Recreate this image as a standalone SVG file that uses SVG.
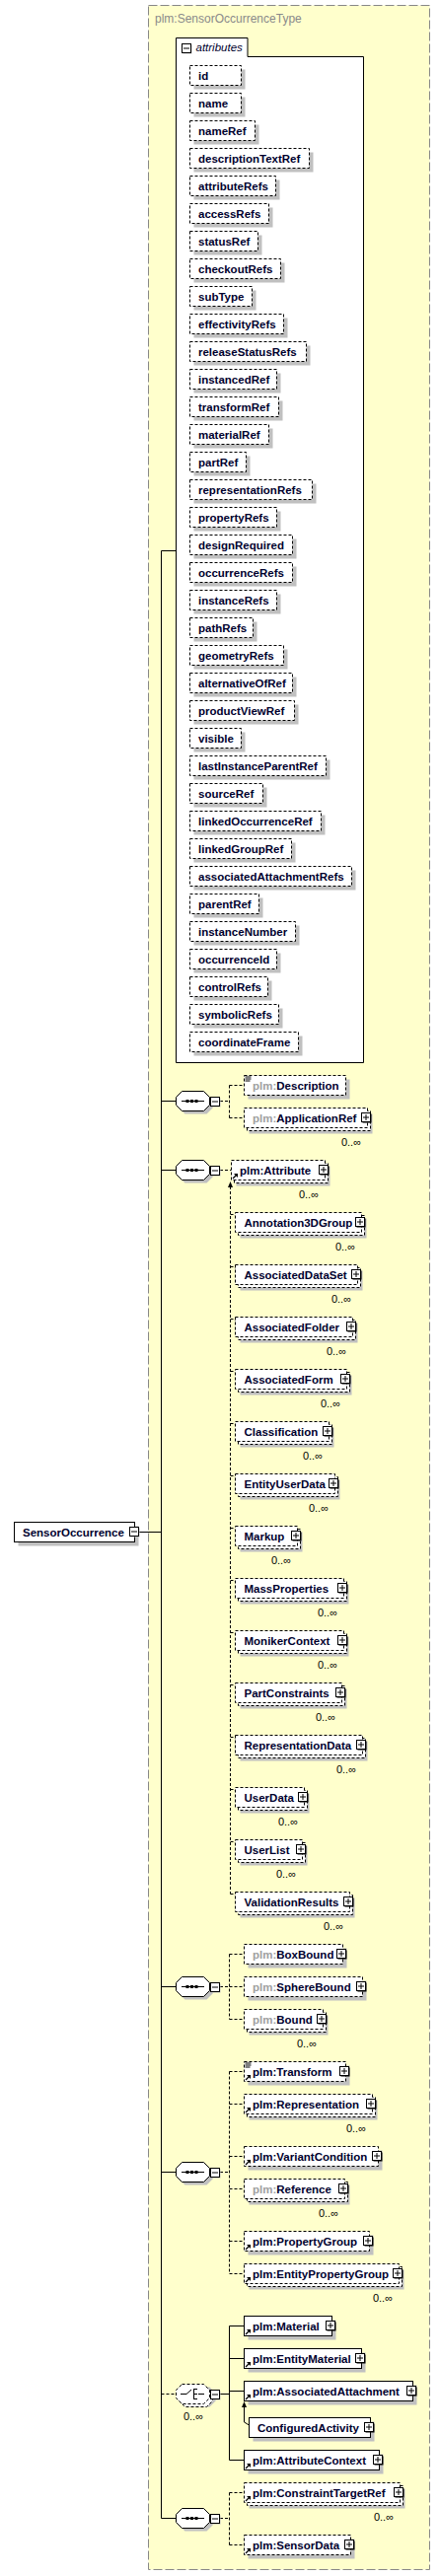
<svg xmlns="http://www.w3.org/2000/svg" xmlns:xlink="http://www.w3.org/1999/xlink" width="446" height="2612" viewBox="0 0 446 2612">
<style>
.t{font-family:"Liberation Sans",Arial,sans-serif;font-size:11.5px;font-weight:bold;fill:#00002e}
.pg{fill:#a0a0a0}
.occ{font-family:"Liberation Sans",Arial,sans-serif;font-size:11px;fill:#000;text-anchor:end}
.sh{fill:#c0c0c0}
.bd{fill:#fff;stroke:#000;stroke-dasharray:3,2}
.bs{fill:#fff;stroke:#000}
.ln{fill:none;stroke:#000}
.dl{fill:none;stroke:#000;stroke-dasharray:3,2}
</style>
<defs>
<g id="plus"><rect x="1.5" y="1.5" width="9" height="9" fill="#000"/><rect x="0.5" y="0.5" width="9" height="9" fill="#fff" stroke="#000"/><path d="M2 5H8M5 2V8" stroke="#000"/></g>
<g id="minus"><rect x="1.5" y="1.5" width="9" height="9" fill="#c0c0c0"/><rect x="0.5" y="0.5" width="9" height="9" fill="#fff" stroke="#000"/><path d="M2 5H8" stroke="#000"/></g>
<g id="ref"><path d="M1.5-1.5L5-5" stroke="#000" stroke-width="1.2"/><path d="M6.5-6.5H2.5L6.5-2.5Z" fill="#000"/></g>
<g id="eq"><path d="M1 1.5H7M1 3.5H7M1 5.5H6" stroke="#000"/></g>
<g id="oct">
<polygon class="sh" points="9,-7 31,-7 37,-1 37,7 31,13 9,13 3,7 3,-1"/>
<polygon class="bs" points="6,-10 28,-10 34,-4 34,4 28,10 6,10 0,4 0,-4"/>
<path d="M5.5 0H28.5" stroke="#000"/>
<rect x="10" y="-1.5" width="3" height="3"/><rect x="14.5" y="-1.5" width="3" height="3"/><rect x="19" y="-1.5" width="3" height="3"/>
</g>
</defs>

<rect x="150.5" y="5.5" width="285" height="2600" fill="#ffffcc" stroke="#888" stroke-dasharray="9,3"/>
<text x="157" y="23" font-family="Liberation Sans, Arial, sans-serif" font-size="12" fill="#8a8a8a">plm:SensorOccurrenceType</text>

<g id="connectors">
<path class="ln" d="M163.5 558.5V2553.5M163.5 558.5H178.5M141 1553.5H163.5M163.5 1116.5H178.5M163.5 1186.5H178.5M163.5 2014.5H178.5M163.5 2202.5H178.5M163.5 2553.5H178.5"/>
<path class="dl" d="M163.5 2427.5H178.5"/>
<path class="dl" d="M223 1116.5H232.5M232.5 1100.5V1133.5M232.5 1100.5H247.5M232.5 1133.5H247.5"/>
<path class="dl" d="M223 1186.5H234.5"/>
<path class="dl" d="M233.5 1203V1920.5"/>
<polygon points="233.5,1198 231,1204 236,1204" fill="#000"/>
<path class="dl" d="M233.5 1231.5H236.5L238.5 1233.5M233.5 1284.5H236.5L238.5 1286.5M233.5 1337.5H236.5L238.5 1339.5M233.5 1390.5H236.5L238.5 1392.5M233.5 1443.5H236.5L238.5 1445.5M233.5 1496.5H236.5L238.5 1498.5M233.5 1549.5H236.5L238.5 1551.5M233.5 1602.5H236.5L238.5 1604.5M233.5 1655.5H236.5L238.5 1657.5M233.5 1708.5H236.5L238.5 1710.5M233.5 1761.5H236.5L238.5 1763.5M233.5 1814.5H236.5L238.5 1816.5M233.5 1867.5H236.5L238.5 1869.5M233.5 1920.5H236.5L238.5 1922.5"/>
<path class="dl" d="M223 2014.5H232.5M232.5 1981.5V2047.5M232.5 1981.5H247.5M232.5 2014.5H247.5M232.5 2047.5H247.5"/>
<path class="dl" d="M223 2202.5H232.5M232.5 2100.5V2305.5M232.5 2100.5H247.5M232.5 2133.5H247.5M232.5 2186.5H247.5M232.5 2219.5H247.5M232.5 2272.5H247.5M232.5 2305.5H247.5"/>
<path class="ln" d="M223 2427.5H232.5M232.5 2358.5V2494.5M232.5 2358.5H247.5M232.5 2391.5H247.5M232.5 2424.5H247.5M232.5 2494.5H247.5"/>
<path class="ln" d="M247.5 2440V2456L252.5 2459"/>
<polygon points="247.5,2435 245,2441 250,2441" fill="#000"/>
<path class="dl" d="M223 2553.5H232.5M232.5 2527.5V2580.5M232.5 2527.5H247.5M232.5 2580.5H247.5"/>
</g>

<g id="n-SensorOccurrence">
<rect class="sh" x="18.5" y="1547.5" width="122" height="20"/>
<rect class="bs" x="14.5" y="1543.5" width="122" height="20"/>
<text class="t" x="23" y="1557.5">SensorOccurrence</text>
<use xlink:href="#minus" x="131" y="1548"/>
</g>

<g id="attributes">
<path d="M178.5 1077.5V38.5H251V57.5H368.5V1077.5Z" fill="#fff" stroke="#000"/>
<use xlink:href="#minus" x="184" y="44"/>
<text x="198.5" y="52" font-family="Liberation Sans, Arial, sans-serif" font-size="11.5" font-style="italic" fill="#00002e">attributes</text>
<g id="a-id"><rect class="sh" x="196.5" y="70.5" width="52" height="20"/><rect class="bd" x="192.5" y="66.5" width="52" height="20"/><text class="t" x="201" y="80.5">id</text></g>
<g id="a-name"><rect class="sh" x="196.5" y="98.5" width="52" height="20"/><rect class="bd" x="192.5" y="94.5" width="52" height="20"/><text class="t" x="201" y="108.5">name</text></g>
<g id="a-nameRef"><rect class="sh" x="196.5" y="126.5" width="66" height="20"/><rect class="bd" x="192.5" y="122.5" width="66" height="20"/><text class="t" x="201" y="136.5">nameRef</text></g>
<g id="a-descriptionTextRef"><rect class="sh" x="196.5" y="154.5" width="121" height="20"/><rect class="bd" x="192.5" y="150.5" width="121" height="20"/><text class="t" x="201" y="164.5">descriptionTextRef</text></g>
<g id="a-attributeRefs"><rect class="sh" x="196.5" y="182.5" width="87" height="20"/><rect class="bd" x="192.5" y="178.5" width="87" height="20"/><text class="t" x="201" y="192.5">attributeRefs</text></g>
<g id="a-accessRefs"><rect class="sh" x="196.5" y="210.5" width="80" height="20"/><rect class="bd" x="192.5" y="206.5" width="80" height="20"/><text class="t" x="201" y="220.5">accessRefs</text></g>
<g id="a-statusRef"><rect class="sh" x="196.5" y="238.5" width="69" height="20"/><rect class="bd" x="192.5" y="234.5" width="69" height="20"/><text class="t" x="201" y="248.5">statusRef</text></g>
<g id="a-checkoutRefs"><rect class="sh" x="196.5" y="266.5" width="92" height="20"/><rect class="bd" x="192.5" y="262.5" width="92" height="20"/><text class="t" x="201" y="276.5">checkoutRefs</text></g>
<g id="a-subType"><rect class="sh" x="196.5" y="294.5" width="63" height="20"/><rect class="bd" x="192.5" y="290.5" width="63" height="20"/><text class="t" x="201" y="304.5">subType</text></g>
<g id="a-effectivityRefs"><rect class="sh" x="196.5" y="322.5" width="95" height="20"/><rect class="bd" x="192.5" y="318.5" width="95" height="20"/><text class="t" x="201" y="332.5">effectivityRefs</text></g>
<g id="a-releaseStatusRefs"><rect class="sh" x="196.5" y="350.5" width="118" height="20"/><rect class="bd" x="192.5" y="346.5" width="118" height="20"/><text class="t" x="201" y="360.5">releaseStatusRefs</text></g>
<g id="a-instancedRef"><rect class="sh" x="196.5" y="378.5" width="88" height="20"/><rect class="bd" x="192.5" y="374.5" width="88" height="20"/><text class="t" x="201" y="388.5">instancedRef</text></g>
<g id="a-transformRef"><rect class="sh" x="196.5" y="406.5" width="90" height="20"/><rect class="bd" x="192.5" y="402.5" width="90" height="20"/><text class="t" x="201" y="416.5">transformRef</text></g>
<g id="a-materialRef"><rect class="sh" x="196.5" y="434.5" width="80" height="20"/><rect class="bd" x="192.5" y="430.5" width="80" height="20"/><text class="t" x="201" y="444.5">materialRef</text></g>
<g id="a-partRef"><rect class="sh" x="196.5" y="462.5" width="57" height="20"/><rect class="bd" x="192.5" y="458.5" width="57" height="20"/><text class="t" x="201" y="472.5">partRef</text></g>
<g id="a-representationRefs"><rect class="sh" x="196.5" y="490.5" width="124" height="20"/><rect class="bd" x="192.5" y="486.5" width="124" height="20"/><text class="t" x="201" y="500.5">representationRefs</text></g>
<g id="a-propertyRefs"><rect class="sh" x="196.5" y="518.5" width="88" height="20"/><rect class="bd" x="192.5" y="514.5" width="88" height="20"/><text class="t" x="201" y="528.5">propertyRefs</text></g>
<g id="a-designRequired"><rect class="sh" x="196.5" y="546.5" width="104" height="20"/><rect class="bd" x="192.5" y="542.5" width="104" height="20"/><text class="t" x="201" y="556.5">designRequired</text></g>
<g id="a-occurrenceRefs"><rect class="sh" x="196.5" y="574.5" width="104" height="20"/><rect class="bd" x="192.5" y="570.5" width="104" height="20"/><text class="t" x="201" y="584.5">occurrenceRefs</text></g>
<g id="a-instanceRefs"><rect class="sh" x="196.5" y="602.5" width="88" height="20"/><rect class="bd" x="192.5" y="598.5" width="88" height="20"/><text class="t" x="201" y="612.5">instanceRefs</text></g>
<g id="a-pathRefs"><rect class="sh" x="196.5" y="630.5" width="64" height="20"/><rect class="bd" x="192.5" y="626.5" width="64" height="20"/><text class="t" x="201" y="640.5">pathRefs</text></g>
<g id="a-geometryRefs"><rect class="sh" x="196.5" y="658.5" width="95" height="20"/><rect class="bd" x="192.5" y="654.5" width="95" height="20"/><text class="t" x="201" y="668.5">geometryRefs</text></g>
<g id="a-alternativeOfRef"><rect class="sh" x="196.5" y="686.5" width="104" height="20"/><rect class="bd" x="192.5" y="682.5" width="104" height="20"/><text class="t" x="201" y="696.5">alternativeOfRef</text></g>
<g id="a-productViewRef"><rect class="sh" x="196.5" y="714.5" width="106" height="20"/><rect class="bd" x="192.5" y="710.5" width="106" height="20"/><text class="t" x="201" y="724.5">productViewRef</text></g>
<g id="a-visible"><rect class="sh" x="196.5" y="742.5" width="52" height="20"/><rect class="bd" x="192.5" y="738.5" width="52" height="20"/><text class="t" x="201" y="752.5">visible</text></g>
<g id="a-lastInstanceParentRef"><rect class="sh" x="196.5" y="770.5" width="138" height="20"/><rect class="bd" x="192.5" y="766.5" width="138" height="20"/><text class="t" x="201" y="780.5">lastInstanceParentRef</text></g>
<g id="a-sourceRef"><rect class="sh" x="196.5" y="798.5" width="74" height="20"/><rect class="bd" x="192.5" y="794.5" width="74" height="20"/><text class="t" x="201" y="808.5">sourceRef</text></g>
<g id="a-linkedOccurrenceRef"><rect class="sh" x="196.5" y="826.5" width="133" height="20"/><rect class="bd" x="192.5" y="822.5" width="133" height="20"/><text class="t" x="201" y="836.5">linkedOccurrenceRef</text></g>
<g id="a-linkedGroupRef"><rect class="sh" x="196.5" y="854.5" width="103" height="20"/><rect class="bd" x="192.5" y="850.5" width="103" height="20"/><text class="t" x="201" y="864.5">linkedGroupRef</text></g>
<g id="a-associatedAttachmentRefs"><rect class="sh" x="196.5" y="882.5" width="164" height="20"/><rect class="bd" x="192.5" y="878.5" width="164" height="20"/><text class="t" x="201" y="892.5">associatedAttachmentRefs</text></g>
<g id="a-parentRef"><rect class="sh" x="196.5" y="910.5" width="70" height="20"/><rect class="bd" x="192.5" y="906.5" width="70" height="20"/><text class="t" x="201" y="920.5">parentRef</text></g>
<g id="a-instanceNumber"><rect class="sh" x="196.5" y="938.5" width="107" height="20"/><rect class="bd" x="192.5" y="934.5" width="107" height="20"/><text class="t" x="201" y="948.5">instanceNumber</text></g>
<g id="a-occurrenceId"><rect class="sh" x="196.5" y="966.5" width="88" height="20"/><rect class="bd" x="192.5" y="962.5" width="88" height="20"/><text class="t" x="201" y="976.5">occurrenceId</text></g>
<g id="a-controlRefs"><rect class="sh" x="196.5" y="994.5" width="79" height="20"/><rect class="bd" x="192.5" y="990.5" width="79" height="20"/><text class="t" x="201" y="1004.5">controlRefs</text></g>
<g id="a-symbolicRefs"><rect class="sh" x="196.5" y="1022.5" width="90" height="20"/><rect class="bd" x="192.5" y="1018.5" width="90" height="20"/><text class="t" x="201" y="1032.5">symbolicRefs</text></g>
<g id="a-coordinateFrame"><rect class="sh" x="196.5" y="1050.5" width="110" height="20"/><rect class="bd" x="192.5" y="1046.5" width="110" height="20"/><text class="t" x="201" y="1060.5">coordinateFrame</text></g>
</g>

<g id="seq1"><use xlink:href="#oct" x="178.5" y="1116.5"/><use xlink:href="#minus" x="213" y="1112"/></g>
<g id="seq2"><use xlink:href="#oct" x="178.5" y="1186.5"/><use xlink:href="#minus" x="213" y="1182"/></g>
<g id="seq3"><use xlink:href="#oct" x="178.5" y="2014.5"/><use xlink:href="#minus" x="213" y="2010"/></g>
<g id="seq4"><use xlink:href="#oct" x="178.5" y="2202.5"/><use xlink:href="#minus" x="213" y="2198"/></g>
<g id="seq6"><use xlink:href="#oct" x="178.5" y="2553.5"/><use xlink:href="#minus" x="213" y="2549"/></g>
<g id="choice">
<polygon class="sh" points="190.5,2420.5 212.5,2420.5 218.5,2426.5 218.5,2434.5 212.5,2440.5 190.5,2440.5 184.5,2434.5 184.5,2426.5"/>
<polygon class="bd" points="187.5,2420.5 209.5,2420.5 215.5,2426.5 215.5,2434.5 209.5,2440.5 187.5,2440.5 181.5,2434.5 181.5,2426.5"/>
<polygon class="bd" points="184.5,2417.5 206.5,2417.5 212.5,2423.5 212.5,2431.5 206.5,2437.5 184.5,2437.5 178.5,2431.5 178.5,2423.5"/>
<path class="ln" d="M183 2427.5H189L194 2423M196.5 2422V2433M196.5 2422.5H200M196.5 2427.5H200M196.5 2432.5H200M201 2427.5H207"/>
<use xlink:href="#minus" x="213" y="2423"/>
<text class="occ" x="206" y="2454">0..∞</text>
</g>

<g id="n-Description"><rect class="sh" x="251.5" y="1094.5" width="103" height="20"/><rect class="bd" x="247.5" y="1090.5" width="103" height="20"/><use xlink:href="#eq" x="247.5" y="1090.5"/><text class="t" x="256" y="1104.5"><tspan class="pg">plm:</tspan>Description</text></g>
<g id="n-ApplicationRef"><rect class="sh" x="252.5" y="1129.5" width="125" height="20"/><rect class="bd" x="250.5" y="1126.5" width="125" height="20"/><rect class="bd" x="247.5" y="1123.5" width="125" height="20"/><text class="t" x="256" y="1137.5"><tspan class="pg">plm:</tspan>ApplicationRef</text><use xlink:href="#plus" x="366" y="1128"/><text class="occ" x="366" y="1161.5">0..∞</text></g>

<g id="n-Attribute"><rect class="sh" x="239.5" y="1182.5" width="95" height="20"/><rect class="bd" x="237.5" y="1179.5" width="95" height="20"/><rect class="bd" x="234.5" y="1176.5" width="95" height="20"/><use xlink:href="#ref" x="234.5" y="1196.5"/><text class="t" x="243" y="1190.5">plm:Attribute</text><use xlink:href="#plus" x="323" y="1181"/><text class="occ" x="323" y="1214.5">0..∞</text></g>

<g id="n-Annotation3DGroup"><rect class="sh" x="243.5" y="1235.5" width="128" height="20"/><rect class="bd" x="241.5" y="1232.5" width="128" height="20"/><rect class="bd" x="238.5" y="1229.5" width="128" height="20"/><text class="t" x="247.5" y="1243.5">Annotation3DGroup</text><use xlink:href="#plus" x="360" y="1234"/><text class="occ" x="360" y="1267.5">0..∞</text></g>
<g id="n-AssociatedDataSet"><rect class="sh" x="243.5" y="1288.5" width="124" height="20"/><rect class="bd" x="241.5" y="1285.5" width="124" height="20"/><rect class="bd" x="238.5" y="1282.5" width="124" height="20"/><text class="t" x="247.5" y="1296.5">AssociatedDataSet</text><use xlink:href="#plus" x="356" y="1287"/><text class="occ" x="356" y="1320.5">0..∞</text></g>
<g id="n-AssociatedFolder"><rect class="sh" x="243.5" y="1341.5" width="119" height="20"/><rect class="bd" x="241.5" y="1338.5" width="119" height="20"/><rect class="bd" x="238.5" y="1335.5" width="119" height="20"/><text class="t" x="247.5" y="1349.5">AssociatedFolder</text><use xlink:href="#plus" x="351" y="1340"/><text class="occ" x="351" y="1373.5">0..∞</text></g>
<g id="n-AssociatedForm"><rect class="sh" x="243.5" y="1394.5" width="113" height="20"/><rect class="bd" x="241.5" y="1391.5" width="113" height="20"/><rect class="bd" x="238.5" y="1388.5" width="113" height="20"/><text class="t" x="247.5" y="1402.5">AssociatedForm</text><use xlink:href="#plus" x="345" y="1393"/><text class="occ" x="345" y="1426.5">0..∞</text></g>
<g id="n-Classification"><rect class="sh" x="243.5" y="1447.5" width="95" height="20"/><rect class="bd" x="241.5" y="1444.5" width="95" height="20"/><rect class="bd" x="238.5" y="1441.5" width="95" height="20"/><text class="t" x="247.5" y="1455.5">Classification</text><use xlink:href="#plus" x="327" y="1446"/><text class="occ" x="327" y="1479.5">0..∞</text></g>
<g id="n-EntityUserData"><rect class="sh" x="243.5" y="1500.5" width="101" height="20"/><rect class="bd" x="241.5" y="1497.5" width="101" height="20"/><rect class="bd" x="238.5" y="1494.5" width="101" height="20"/><text class="t" x="247.5" y="1508.5">EntityUserData</text><use xlink:href="#plus" x="333" y="1499"/><text class="occ" x="333" y="1532.5">0..∞</text></g>
<g id="n-Markup"><rect class="sh" x="243.5" y="1553.5" width="63" height="20"/><rect class="bd" x="241.5" y="1550.5" width="63" height="20"/><rect class="bd" x="238.5" y="1547.5" width="63" height="20"/><text class="t" x="247.5" y="1561.5">Markup</text><use xlink:href="#plus" x="295" y="1552"/><text class="occ" x="295" y="1585.5">0..∞</text></g>
<g id="n-MassProperties"><rect class="sh" x="243.5" y="1606.5" width="110" height="20"/><rect class="bd" x="241.5" y="1603.5" width="110" height="20"/><rect class="bd" x="238.5" y="1600.5" width="110" height="20"/><text class="t" x="247.5" y="1614.5">MassProperties</text><use xlink:href="#plus" x="342" y="1605"/><text class="occ" x="342" y="1638.5">0..∞</text></g>
<g id="n-MonikerContext"><rect class="sh" x="243.5" y="1659.5" width="110" height="20"/><rect class="bd" x="241.5" y="1656.5" width="110" height="20"/><rect class="bd" x="238.5" y="1653.5" width="110" height="20"/><text class="t" x="247.5" y="1667.5">MonikerContext</text><use xlink:href="#plus" x="342" y="1658"/><text class="occ" x="342" y="1691.5">0..∞</text></g>
<g id="n-PartConstraints"><rect class="sh" x="243.5" y="1712.5" width="108" height="20"/><rect class="bd" x="241.5" y="1709.5" width="108" height="20"/><rect class="bd" x="238.5" y="1706.5" width="108" height="20"/><text class="t" x="247.5" y="1720.5">PartConstraints</text><use xlink:href="#plus" x="340" y="1711"/><text class="occ" x="340" y="1744.5">0..∞</text></g>
<g id="n-RepresentationData"><rect class="sh" x="243.5" y="1765.5" width="129" height="20"/><rect class="bd" x="241.5" y="1762.5" width="129" height="20"/><rect class="bd" x="238.5" y="1759.5" width="129" height="20"/><text class="t" x="247.5" y="1773.5">RepresentationData</text><use xlink:href="#plus" x="361" y="1764"/><text class="occ" x="361" y="1797.5">0..∞</text></g>
<g id="n-UserData"><rect class="sh" x="243.5" y="1818.5" width="70" height="20"/><rect class="bd" x="241.5" y="1815.5" width="70" height="20"/><rect class="bd" x="238.5" y="1812.5" width="70" height="20"/><text class="t" x="247.5" y="1826.5">UserData</text><use xlink:href="#plus" x="302" y="1817"/><text class="occ" x="302" y="1850.5">0..∞</text></g>
<g id="n-UserList"><rect class="sh" x="243.5" y="1871.5" width="68" height="20"/><rect class="bd" x="241.5" y="1868.5" width="68" height="20"/><rect class="bd" x="238.5" y="1865.5" width="68" height="20"/><text class="t" x="247.5" y="1879.5">UserList</text><use xlink:href="#plus" x="300" y="1870"/><text class="occ" x="300" y="1903.5">0..∞</text></g>
<g id="n-ValidationResults"><rect class="sh" x="243.5" y="1924.5" width="116" height="20"/><rect class="bd" x="241.5" y="1921.5" width="116" height="20"/><rect class="bd" x="238.5" y="1918.5" width="116" height="20"/><text class="t" x="247.5" y="1932.5">ValidationResults</text><use xlink:href="#plus" x="348" y="1923"/><text class="occ" x="348" y="1956.5">0..∞</text></g>

<g id="n-BoxBound"><rect class="sh" x="251.5" y="1975.5" width="100" height="20"/><rect class="bd" x="247.5" y="1971.5" width="100" height="20"/><text class="t" x="256" y="1985.5"><tspan class="pg">plm:</tspan>BoxBound</text><use xlink:href="#plus" x="341" y="1976"/></g>
<g id="n-SphereBound"><rect class="sh" x="251.5" y="2008.5" width="120" height="20"/><rect class="bd" x="247.5" y="2004.5" width="120" height="20"/><text class="t" x="256" y="2018.5"><tspan class="pg">plm:</tspan>SphereBound</text><use xlink:href="#plus" x="361" y="2009"/></g>
<g id="n-Bound"><rect class="sh" x="252.5" y="2043.5" width="80" height="20"/><rect class="bd" x="250.5" y="2040.5" width="80" height="20"/><rect class="bd" x="247.5" y="2037.5" width="80" height="20"/><text class="t" x="256" y="2051.5"><tspan class="pg">plm:</tspan>Bound</text><use xlink:href="#plus" x="321" y="2042"/><text class="occ" x="321" y="2075.5">0..∞</text></g>

<g id="n-Transform"><rect class="sh" x="251.5" y="2094.5" width="103" height="20"/><rect class="bd" x="247.5" y="2090.5" width="103" height="20"/><use xlink:href="#eq" x="247.5" y="2090.5"/><use xlink:href="#ref" x="247.5" y="2110.5"/><text class="t" x="256" y="2104.5">plm:Transform</text><use xlink:href="#plus" x="344" y="2095"/></g>
<g id="n-Representation"><rect class="sh" x="252.5" y="2129.5" width="130" height="20"/><rect class="bd" x="250.5" y="2126.5" width="130" height="20"/><rect class="bd" x="247.5" y="2123.5" width="130" height="20"/><use xlink:href="#ref" x="247.5" y="2143.5"/><text class="t" x="256" y="2137.5">plm:Representation</text><use xlink:href="#plus" x="371" y="2128"/><text class="occ" x="371" y="2161.5">0..∞</text></g>
<g id="n-VariantCondition"><rect class="sh" x="251.5" y="2180.5" width="136" height="20"/><rect class="bd" x="247.5" y="2176.5" width="136" height="20"/><use xlink:href="#ref" x="247.5" y="2196.5"/><text class="t" x="256" y="2190.5">plm:VariantCondition</text><use xlink:href="#plus" x="377" y="2181"/></g>
<g id="n-Reference"><rect class="sh" x="252.5" y="2215.5" width="102" height="20"/><rect class="bd" x="250.5" y="2212.5" width="102" height="20"/><rect class="bd" x="247.5" y="2209.5" width="102" height="20"/><text class="t" x="256" y="2223.5"><tspan class="pg">plm:</tspan>Reference</text><use xlink:href="#plus" x="343" y="2214"/><text class="occ" x="343" y="2247.5">0..∞</text></g>
<g id="n-PropertyGroup"><rect class="sh" x="251.5" y="2266.5" width="127" height="20"/><rect class="bd" x="247.5" y="2262.5" width="127" height="20"/><use xlink:href="#ref" x="247.5" y="2282.5"/><text class="t" x="256" y="2276.5">plm:PropertyGroup</text><use xlink:href="#plus" x="368" y="2267"/></g>
<g id="n-EntityPropertyGroup"><rect class="sh" x="252.5" y="2301.5" width="157" height="20"/><rect class="bd" x="250.5" y="2298.5" width="157" height="20"/><rect class="bd" x="247.5" y="2295.5" width="157" height="20"/><use xlink:href="#ref" x="247.5" y="2315.5"/><text class="t" x="256" y="2309.5">plm:EntityPropertyGroup</text><use xlink:href="#plus" x="398" y="2300"/><text class="occ" x="398" y="2333.5">0..∞</text></g>

<g id="n-Material"><rect class="sh" x="251.5" y="2352.5" width="89" height="20"/><rect class="bs" x="247.5" y="2348.5" width="89" height="20"/><use xlink:href="#ref" x="247.5" y="2368.5"/><text class="t" x="256" y="2362.5">plm:Material</text><use xlink:href="#plus" x="330" y="2353"/></g>
<g id="n-EntityMaterial"><rect class="sh" x="251.5" y="2385.5" width="119" height="20"/><rect class="bs" x="247.5" y="2381.5" width="119" height="20"/><use xlink:href="#ref" x="247.5" y="2401.5"/><text class="t" x="256" y="2395.5">plm:EntityMaterial</text><use xlink:href="#plus" x="360" y="2386"/></g>
<g id="n-AssociatedAttachment"><rect class="sh" x="251.5" y="2418.5" width="171" height="20"/><rect class="bs" x="247.5" y="2414.5" width="171" height="20"/><use xlink:href="#ref" x="247.5" y="2434.5"/><text class="t" x="256" y="2428.5">plm:AssociatedAttachment</text><use xlink:href="#plus" x="412" y="2419"/></g>
<g id="n-ConfiguredActivity"><rect class="sh" x="256.5" y="2455.5" width="123" height="20"/><rect class="bs" x="252.5" y="2451.5" width="123" height="20"/><text class="t" x="261" y="2465.5">ConfiguredActivity</text><use xlink:href="#plus" x="369" y="2456"/></g>
<g id="n-AttributeContext"><rect class="sh" x="251.5" y="2488.5" width="137" height="20"/><rect class="bs" x="247.5" y="2484.5" width="137" height="20"/><use xlink:href="#ref" x="247.5" y="2504.5"/><text class="t" x="256" y="2498.5">plm:AttributeContext</text><use xlink:href="#plus" x="378" y="2489"/></g>

<g id="n-ConstraintTargetRef"><rect class="sh" x="252.5" y="2523.5" width="158" height="20"/><rect class="bd" x="250.5" y="2520.5" width="158" height="20"/><rect class="bd" x="247.5" y="2517.5" width="158" height="20"/><use xlink:href="#ref" x="247.5" y="2537.5"/><text class="t" x="256" y="2531.5">plm:ConstraintTargetRef</text><use xlink:href="#plus" x="399" y="2522"/><text class="occ" x="399" y="2555.5">0..∞</text></g>
<g id="n-SensorData"><rect class="sh" x="251.5" y="2574.5" width="108" height="20"/><rect class="bd" x="247.5" y="2570.5" width="108" height="20"/><use xlink:href="#ref" x="247.5" y="2590.5"/><text class="t" x="256" y="2584.5">plm:SensorData</text><use xlink:href="#plus" x="349" y="2575"/></g>
</svg>
